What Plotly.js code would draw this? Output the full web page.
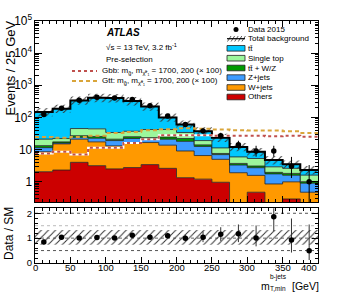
<!DOCTYPE html>
<html><head><meta charset="utf-8">
<script src="https://cdn.plot.ly/plotly-3.0.1.min.js"></script>
<style>html,body{margin:0;padding:0;background:#fff;}#plot{width:357px;height:294px;}</style>
</head><body><div id="plot"></div>
<script>
// ---- data ----
const binEdges = [0,25,50,75,100,125,150,175,200,225,250,275,300,325,350,375,400];
const binCenters = [12.5,37.5,62.5,87.5,112.5,137.5,162.5,187.5,212.5,237.5,262.5,287.5,312.5,337.5,362.5,387.5];
const others    = [2.04,2.3,4.0,3.15,2.5,2.75,3.4,2.6,1.33,1.2,0.96,0.2,0.47,0.15,0.29,0.1];
const wjets     = [6.5,12.7,17,14.2,10.5,13.8,13.1,11.1,7.7,5.3,4.0,1.7,1.1,0.7,0.7,0.37];
const zjets     = [2.9,1.0,3.0,5.2,6.0,5.5,4.5,7.3,9.0,6.0,2.0,1.4,1.15,0.9,0.6,0.43];
const ttv       = [1.8,1.3,3.0,3.0,2.0,3.0,2.5,3.5,4.0,1.5,0.6,0.4,0.35,0.2,0.22,0.1];
const singletop = [7.8,4.7,18,18.5,13,12,18.5,17.5,12,5,3.7,2.2,2.2,0.95,0.8,0.6];
const ttbar     = [126,165,293,365,366,285,178,58,26,18,12.2,6.2,3.2,1.8,0.85,0.7];
const bkgUncUp   = [0.33,0.33,0.33,0.33,0.33,0.33,0.33,0.33,0.33,0.33,0.33,0.33,0.33,0.33,0.33,0.33];
const bkgUncDown = [0.27,0.27,0.27,0.27,0.27,0.27,0.27,0.27,0.27,0.27,0.27,0.27,0.27,0.27,0.27,0.27];
const gbbSignal = [7.5,8.5,7.0,11.3,11.3,16,21,28,28,28,27,27,27,26,27,25];
const gttSignal = [24.5,23.5,24.5,27,33,35,40,43,46,44,42,40,39,39,37,33];
const data2015  = [123,194,341,421,404,361,229,110,60,38,27,14,9,9,3,1];
const dataErrUp   = [12,15,19,21,21,20,16,11,8.8,7.2,6.3,4.8,4.1,4.1,2.9,2.3];
const dataErrDown = [11,14,18,20,20,19,15,10.5,7.7,6.2,5.2,3.7,3.0,3.0,1.7,0.83];
const ratio        = [0.84,1.04,1.01,1.03,1.01,1.12,1.04,1.10,1.0,1.04,1.16,1.18,1.01,1.86,0.93,0.49];
const ratioErrUp   = [0.1,0.08,0.06,0.05,0.05,0.06,0.07,0.11,0.15,0.23,0.28,0.37,0.5,0.87,0.86,1.06];
const ratioErrDown = [0.09,0.07,0.06,0.05,0.05,0.06,0.07,0.1,0.13,0.2,0.27,0.34,0.34,0.59,0.51,0.37];
const xTickVals = [0,50,100,150,200,250,300,350,400];
const xTickText = ['0','50','100','150','200','250','300','350','400'];

// ---- helpers ----
const L=35, R=318, T=21, B=263;
const px = x => (x-L)/(R-L);
const py = y => (B-y)/(B-T);
const step = a => a.concat([a[a.length-1]]);
const FAM = 'Liberation Sans, Arial, sans-serif';
const layers = [
  {v:others,    c:'#cc0000'},
  {v:wjets,     c:'#ff9900'},
  {v:zjets,     c:'#3d9bff'},
  {v:ttv,       c:'#009a00'},
  {v:singletop, c:'#9cf79c'},
  {v:ttbar,     c:'#00c8ff'}
];
const traces = [];
let cum = new Array(binCenters.length).fill(0);
layers.forEach((ly,i)=>{
  cum = cum.map((s,k)=>s+ly.v[k]);
  traces.push({x:binEdges, y:step(cum), type:'scatter', mode:'lines',
    line:{shape:'hv', color:'#202020', width:0.8},
    fill: i===0?'tozeroy':'tonexty', fillcolor:ly.c, hoverinfo:'skip'});
});
const total = cum.slice();
traces.push({x:binEdges, y:step(total.map((t,k)=>t*(1-bkgUncDown[k]))), type:'scatter', mode:'lines',
  line:{shape:'hv', width:0, color:'rgba(0,0,0,0)'}});
traces.push({x:binEdges, y:step(total.map((t,k)=>t*(1+bkgUncUp[k]))), type:'scatter', mode:'lines',
  line:{shape:'hv', width:0, color:'rgba(0,0,0,0)'}, fill:'tonexty', fillcolor:'rgba(0,0,0,0)',
  fillpattern:{shape:'/', fgcolor:'#333', bgcolor:'rgba(0,0,0,0)', size:5, solidity:0.2}});
traces.push({x:binEdges, y:step(total), type:'scatter', mode:'lines', line:{shape:'hv', color:'black', width:2}});
traces.push({x:binEdges, y:step(gbbSignal), type:'scatter', mode:'lines', line:{shape:'hv', color:'white', width:2}});
traces.push({x:binEdges, y:step(gbbSignal), type:'scatter', mode:'lines', line:{shape:'hv', color:'#c0504d', width:2, dash:'dot'}});
traces.push({x:binEdges, y:step(gttSignal), type:'scatter', mode:'lines', line:{shape:'hv', color:'#d9a53a', width:2, dash:'4px,3px'}});
traces.push({x:binCenters, y:data2015, type:'scatter', mode:'markers', marker:{size:5.5, color:'black'},
  error_y:{type:'data', symmetric:false, array:dataErrUp, arrayminus:dataErrDown, width:0, thickness:1, color:'black'}});
// ratio panel
traces.push({x:binEdges, y:step(bkgUncDown.map(u=>1-u)), xaxis:'x2', yaxis:'y2', type:'scatter', mode:'lines',
  line:{shape:'hv', width:0, color:'rgba(0,0,0,0)'}});
traces.push({x:binEdges, y:step(bkgUncUp.map(u=>1+u)), xaxis:'x2', yaxis:'y2', type:'scatter', mode:'lines',
  line:{shape:'hv', width:0, color:'rgba(0,0,0,0)'}, fill:'tonexty', fillcolor:'rgba(0,0,0,0)',
  fillpattern:{shape:'/', fgcolor:'#333', bgcolor:'rgba(0,0,0,0)', size:5, solidity:0.2}});
traces.push({x:binCenters, y:ratio, xaxis:'x2', yaxis:'y2', type:'scatter', mode:'markers', marker:{size:5.5, color:'black'},
  error_y:{type:'data', symmetric:false, array:ratioErrUp, arrayminus:ratioErrDown, width:0, thickness:1, color:'#333'}});

const ax = {showline:true, linecolor:'black', linewidth:1, mirror:'ticks', ticks:'inside', tickcolor:'black',
  showgrid:false, zeroline:false};
const font8 = {family:FAM, size:8, color:'black'};
const shapes = [];
const ann = [];
// ratio reference lines
[[2,'#555'],[1.5,'#bbb'],[1,'#666'],[0.5,'#555']].forEach(([v,c])=>{
  shapes.push({type:'line', xref:'x2', yref:'y2', x0:0, x1:400, y0:v, y1:v, line:{color:c, width:1, dash:'dot'}, layer:'below'});
});
// legend (manual, ROOT style)
shapes.push({type:'circle', xref:'paper', yref:'paper', x0:px(233.5), x1:px(238.5), y0:py(32), y1:py(27), fillcolor:'black', line:{width:0}});
for(let k=0;k<5;k++){
  const x0 = 227.5+3.6*k;
  shapes.push({type:'line', xref:'paper', yref:'paper', x0:px(x0), x1:px(x0+3.5), y0:py(41.5), y1:py(36), line:{color:'#333', width:0.8}});
}
shapes.push({type:'line', xref:'paper', yref:'paper', x0:px(227), x1:px(245), y0:py(38.7), y1:py(38.7), line:{color:'black', width:1.2}});
const legItems = [
  ['tt\u0304','#00c8ff',48.3],['Single top','#9cf79c',58.2],['tt\u0304 + W/Z','#009a00',68],
  ['Z+jets','#3d9bff',77.6],['W+jets','#ff9900',87.5],['Others','#cc0000',97]
];
legItems.forEach(([t,c,y])=>{
  shapes.push({type:'rect', xref:'paper', yref:'paper', x0:px(227), x1:px(245), y0:py(y+2.8), y1:py(y-2.8), fillcolor:c, line:{color:'#222', width:0.8}});
  ann.push({text:t, x:px(247), y:py(y), xanchor:'left', yanchor:'middle'});
});
ann.push({text:'Data 2015', x:px(247), y:py(29.5), xanchor:'left', yanchor:'middle'});
ann.push({text:'Total background', x:px(247), y:py(38.7), xanchor:'left', yanchor:'middle'});
// signal legend samples
shapes.push({type:'line', xref:'paper', yref:'paper', x0:px(72), x1:px(97), y0:py(71), y1:py(71), line:{color:'#c0504d', width:2, dash:'dot'}});
shapes.push({type:'line', xref:'paper', yref:'paper', x0:px(72), x1:px(97), y0:py(81), y1:py(81), line:{color:'#d9a53a', width:2, dash:'4px,3px'}});
ann.push({text:'Gbb: m<sub>g\u0303</sub>, m<sub>\u03c7\u0303\u2070\u2081</sub> = 1700, 200 (\u00d7 100)', x:px(101), y:py(71), xanchor:'left', yanchor:'middle'});
ann.push({text:'Gtt: m<sub>g\u0303</sub>, m<sub>\u03c7\u0303\u2070\u2081</sub> = 1700, 200 (\u00d7 100)', x:px(101), y:py(81), xanchor:'left', yanchor:'middle'});
ann.push({text:'<b><i>ATLAS</i></b>', x:px(105), y:py(32.7), xanchor:'left', yanchor:'middle', font:{family:FAM, size:10, color:'black'}});
ann.push({text:'\u221as = 13 TeV, 3.2 fb<sup>-1</sup>', x:px(105), y:py(46.5), xanchor:'left', yanchor:'middle'});
ann.push({text:'Pre-selection', x:px(105), y:py(59), xanchor:'left', yanchor:'middle'});
// axis titles
ann.push({text:'Events / 25 GeV', x:px(10), y:py(68.5), textangle:-90, xanchor:'center', yanchor:'middle', font:{family:FAM, size:13, color:'black'}});
ann.push({text:'Data / SM', x:px(9), y:py(234), textangle:-90, xanchor:'center', yanchor:'middle', font:{family:FAM, size:12, color:'black'}});
ann.push({text:'m', x:px(260), y:py(285.5), xanchor:'left', yanchor:'middle', font:{family:FAM, size:10.5, color:'black'}});
ann.push({text:'b-jets', x:px(268.5), y:py(277.3), xanchor:'left', yanchor:'middle', font:{family:FAM, size:6.5, color:'black'}});
ann.push({text:'T,min', x:px(268.5), y:py(288.3), xanchor:'left', yanchor:'middle', font:{family:FAM, size:6.5, color:'black'}});
ann.push({text:'[GeV]', x:px(291), y:py(285.5), xanchor:'left', yanchor:'middle', font:{family:FAM, size:10.5, color:'black'}});
ann.forEach(a=>{a.xref='paper'; a.yref='paper'; a.showarrow=false; a.borderpad=0; if(!a.font) a.font=font8;});
// ratio x tick labels (ROOT style: placed right under the axis, last one kept inside the frame)
xTickVals.forEach((v,i)=>{
  const last = i===xTickVals.length-1;
  ann.push({text:xTickText[i], x:v, xref:'x2', y:py(267.5), yref:'paper', showarrow:false, borderpad:0,
    xanchor:last?'right':'center', yanchor:'middle', font:{family:FAM, size:9.5, color:'black'}});
});

const layout = {
  width:357, height:294, margin:{l:35, r:39, t:21, b:31, pad:0},
  paper_bgcolor:'white', plot_bgcolor:'white', showlegend:false,
  font:{family:FAM, size:9.5, color:'black'},
  xaxis:Object.assign({}, ax, {domain:[0,1], anchor:'y', range:[0,400], showticklabels:false, ticklen:6, tick0:0, dtick:50,
    minor:{ticks:'inside', ticklen:3, dtick:10, tickcolor:'black'}}),
  yaxis:Object.assign({}, ax, {domain:[0.251,1], anchor:'x', type:'log', range:[-0.64,5], dtick:1, exponentformat:'power', ticklen:7,
    minor:{ticks:'inside', ticklen:3.5, dtick:'D1', tickcolor:'black'}}),
  xaxis2:Object.assign({}, ax, {domain:[0,1], anchor:'y2', range:[0,400], ticklen:6, tickmode:'array', tickvals:xTickVals, showticklabels:false,
    minor:{ticks:'inside', ticklen:3, dtick:10, tickcolor:'black'}}),
  yaxis2:Object.assign({}, ax, {domain:[0,0.226], anchor:'x2', range:[0,2.2], tick0:0, dtick:1, ticklen:6,
    minor:{ticks:'inside', ticklen:3, dtick:0.2, tickcolor:'black'}}),
  shapes:shapes, annotations:ann
};
Plotly.newPlot('plot', traces, layout, {staticPlot:true, displayModeBar:false});
</script></body></html>
